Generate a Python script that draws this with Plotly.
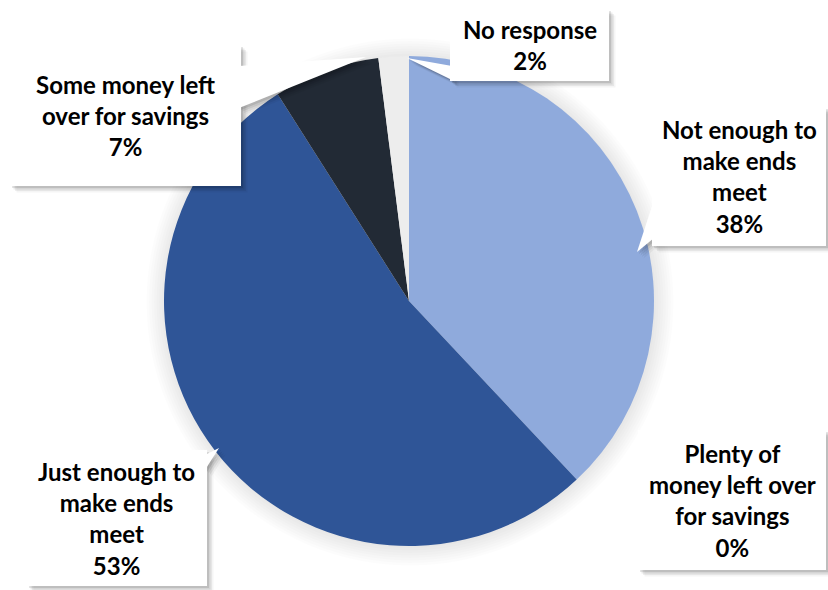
import plotly.graph_objects as go

# Household income sufficiency survey
categories = [
    "Not enough to make ends meet",
    "Plenty of money left over for savings",
    "Just enough to make ends meet",
    "Some money left over for savings",
    "No response",
]
label_lines = [
    "Not enough to<br>make ends<br>meet",
    "Plenty of<br>money left over<br>for savings",
    "Just enough to<br>make ends<br>meet",
    "Some money left<br>over for savings",
    "No response",
]
shares = [38, 0, 53, 7, 2]
slice_colors = ["#8FAADC", "#FFFFFF", "#2F5597", "#222A35", "#EDEDED"]

W, H = 828, 590
CX, CY, R = 409, 301, 245


def fx(x):
    return x / W


def fy(y):
    return 1 - y / H


fig = go.Figure()
fig.add_trace(go.Pie(
    labels=categories,
    values=shares,
    sort=False,
    direction="clockwise",
    rotation=0,
    marker=dict(colors=slice_colors, line=dict(width=0)),
    textinfo="none",
    hoverinfo="label+percent",
    showlegend=False,
    domain=dict(x=[fx(CX - R), fx(CX + R)], y=[fy(CY + R), fy(CY - R)]),
))

shapes = []

# soft halo behind the pie
for i in range(8):
    rr = R + 1 + i * 2.5
    shapes.append(dict(type="circle", xref="paper", yref="paper", layer="below",
                       x0=fx(CX - rr + 1), x1=fx(CX + rr + 1),
                       y0=fy(CY + rr + 1), y1=fy(CY - rr + 1),
                       line=dict(width=0), fillcolor="rgba(0,0,0,0.012)"))

# callout boxes: (left, top, right, bottom) in pixels, optional tail polygon
boxes = [
    ((652, 107, 826, 246), [(654, 200), (637, 252), (654, 238)]),
    ((638, 430, 826, 570), None),
    ((27, 450, 207, 586), [(205, 455), (219, 448), (205, 470)]),
    ((10, 45, 241, 186), [(239, 66), (366, 57), (239, 108)]),
    ((450, 9, 609, 81), [(452, 66), (407, 58), (452, 80)]),
]


def path_of(pts, dx=0, dy=0):
    s = "M " + " L ".join(f"{fx(x + dx)},{fy(y + dy)}" for x, y in pts) + " Z"
    return s


for (x0, y0, x1, y1), tail in boxes:
    # drop shadow made of stacked translucent layers
    for k, op in enumerate([0.10, 0.08, 0.06, 0.04]):
        off = 2 + k * 1.5
        shapes.append(dict(type="rect", xref="paper", yref="paper", layer="above",
                           x0=fx(x0 + off), x1=fx(x1 + off),
                           y0=fy(y1 + off), y1=fy(y0 + off),
                           line=dict(width=0), fillcolor=f"rgba(0,0,0,{op})"))
        if tail:
            shapes.append(dict(type="path", xref="paper", yref="paper", layer="above",
                               path=path_of(tail, off, off),
                               line=dict(width=0), fillcolor=f"rgba(0,0,0,{op})"))
for (x0, y0, x1, y1), tail in boxes:
    shapes.append(dict(type="rect", xref="paper", yref="paper", layer="above",
                       x0=fx(x0), x1=fx(x1), y0=fy(y1), y1=fy(y0),
                       line=dict(width=0), fillcolor="white"))
    if tail:
        shapes.append(dict(type="path", xref="paper", yref="paper", layer="above",
                           path=path_of(tail),
                           line=dict(width=0), fillcolor="white"))

annotations = []
for (box, _), text, val in zip(boxes, label_lines, shares):
    x0, y0, x1, y1 = box
    annotations.append(dict(
        xref="paper", yref="paper",
        x=fx((x0 + x1) / 2), y=fy((y0 + y1) / 2),
        xanchor="center", yanchor="middle",
        text=f"<b>{text}<br>{val}%</b>",
        showarrow=False, align="center",
        font=dict(family="Lato", size=24, color="#000000"),
    ))

fig.update_layout(
    width=W, height=H,
    margin=dict(l=0, r=0, t=0, b=0),
    paper_bgcolor="white",
    plot_bgcolor="white",
    shapes=shapes,
    annotations=annotations,
)

fig.write_html("out.html")
